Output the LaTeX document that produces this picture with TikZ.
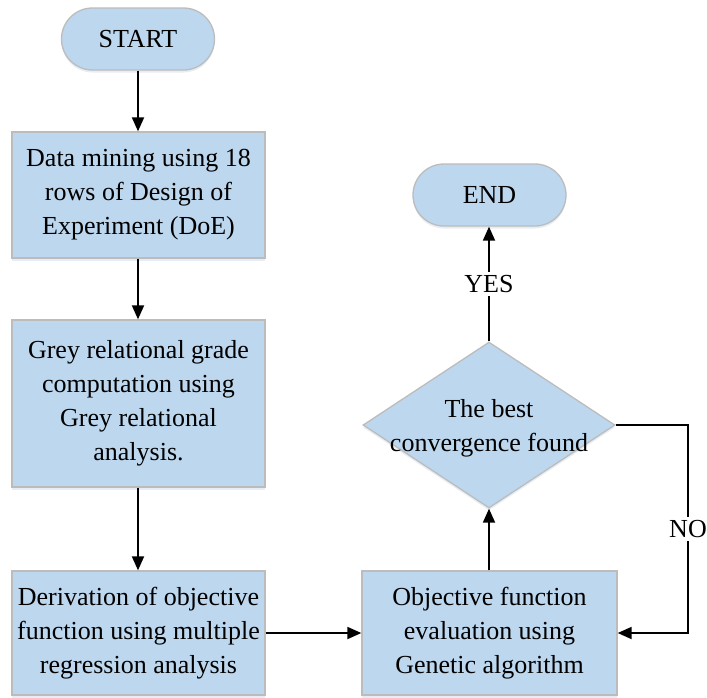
\documentclass[tikz,border=0pt]{standalone}
\usepackage{fontspec}
\setmainfont{Liberation Serif}
\usetikzlibrary{arrows.meta,shapes.geometric,shadows}

\definecolor{boxfill}{HTML}{BDD7EE}
\definecolor{boxline}{HTML}{BCBCBC}
\definecolor{shade}{HTML}{9DB9D6}

\tikzset{
  base/.style={draw=boxline, line width=1.3pt, fill=boxfill, inner sep=0pt,
    font=\fontsize{26}{34}\selectfont, align=center,
    drop shadow={shadow xshift=0pt, shadow yshift=-2.5pt, opacity=0.25, fill=shade}},
  terminal/.style={base, rectangle, rounded corners=31pt,
    minimum width=153pt, minimum height=62pt},
  procbox/.style={base, rectangle, minimum width=253pt},
  decision/.style={base, diamond, aspect=1.518, minimum width=252pt, minimum height=166pt},
  txt/.style={font=\fontsize{26}{34}\selectfont, align=center, inner sep=0pt},
  flow/.style={line width=1.8pt, -{Triangle[length=14pt,width=12pt]}},
  tag/.style={font=\fontsize{26}{34}\selectfont, fill=white, inner sep=3pt}
}

\begin{document}
\begin{tikzpicture}[x=1pt,y=-1pt]
\useasboundingbox (0,0) rectangle (707,697);

% left column
\node[terminal] (start) at (138,39) {START};
\node[procbox, minimum height=126pt] (mine) at (138.5,195)
  {Data mining using 18\\rows of Design of\\Experiment (DoE)};
\node[procbox, minimum height=167pt] (grey) at (138.5,403.5)
  {Grey relational grade\\computation using\\Grey relational\\analysis.};
\node[procbox, minimum height=124pt] (deriv) at (138.5,633)
  {Derivation of objective\\function using multiple\\regression analysis};

% right column
\node[procbox, minimum width=255pt, minimum height=124pt] (ga) at (489.5,633)
  {Objective function\\evaluation using\\Genetic algorithm};
\node[decision] (dec) at (489,425) {};
\node[txt] (dectext) at (489,428) {The best\\convergence found};
\node[terminal] (finish) at (489.5,195) {END};

% connectors
\draw[flow] (start) -- (start |- mine.north);
\draw[flow] (start |- mine.south) -- (start |- grey.north);
\draw[flow] (start |- grey.south) -- (start |- deriv.north);
\draw[flow] (deriv) -- (ga);
\draw[flow] (ga.north -| dec.south) -- (dec.south);
\draw[flow] (dec.north) -- node[tag, pos=0.5] {YES} (finish.south -| dec.north);

\coordinate (loopA) at (688,425);
\coordinate (loopB) at (688,633);
\draw[flow] (dec.east) -- (loopA) -- node[tag, pos=0.5, inner xsep=0pt] {NO} (loopB) -- (ga.east);
\end{tikzpicture}
\end{document}
